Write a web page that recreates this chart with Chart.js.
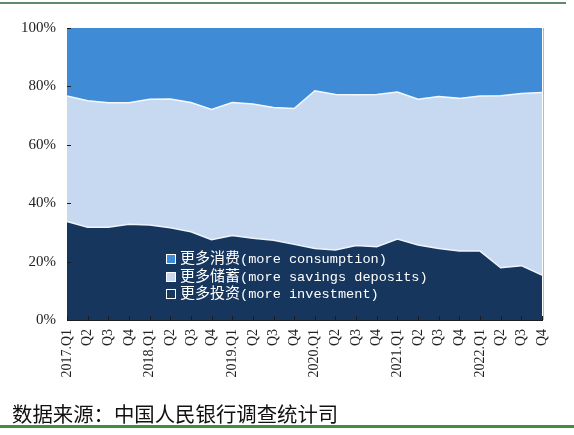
<!DOCTYPE html>
<html lang="zh">
<head>
    <meta charset="UTF-8">
    <title>居民储蓄、消费、投资意愿</title>
    <script src="https://cdn.jsdelivr.net/npm/chart.js"></script>
    <style>
        body { margin: 0; background: #fff; }
        .wrap { position: relative; width: 574px; height: 435px; overflow: hidden; }
        #chart { position: absolute; left: 0; top: 0; }
        .rule-top { position: absolute; left: 0; top: 2px; width: 566px; height: 2px; background: #62876a; }
        .rule-bottom { position: absolute; left: 0; top: 425px; width: 574px; height: 3px; background: #3f8f3f; }
        .source { position: absolute; left: 12px; top: 398px; font: 20.4px "Noto Sans CJK SC", sans-serif; color: #111; }
        .legend { position: absolute; left: 166px; top: 246px; color: #fff; }
        .legend div { height: 17.5px; line-height: 17.5px; white-space: nowrap; }
        .legend i { display: inline-block; width: 8px; height: 8px; border: 1.5px solid #fff; margin-right: 4px; vertical-align: -1px; }
        .legend .zh { font: 15px "Noto Sans CJK SC", sans-serif; }
        .legend .en { font: 13.6px "Liberation Mono", monospace; }
    </style>
</head>
<body>
    <div class="wrap">
        <div class="rule-top"></div>
        <canvas id="chart" width="574" height="435"></canvas>
        <div class="legend">
            <div><i style="background:#3f8bd6"></i><span class="zh">更多消费</span><span class="en">(more consumption)</span></div>
            <div><i style="background:#c6d9f1"></i><span class="zh">更多储蓄</span><span class="en">(more savings deposits)</span></div>
            <div><i style="background:#17365d"></i><span class="zh">更多投资</span><span class="en">(more investment)</span></div>
        </div>
        <div class="source">数据来源：中国人民银行调查统计司</div>
        <div class="rule-bottom"></div>
    </div>

    <script>
    // quarter labels
    const quarters = [
        '2017.Q1', 'Q2', 'Q3', 'Q4',
        '2018.Q1', 'Q2', 'Q3', 'Q4',
        '2019.Q1', 'Q2', 'Q3', 'Q4',
        '2020.Q1', 'Q2', 'Q3', 'Q4',
        '2021.Q1', 'Q2', 'Q3', 'Q4',
        '2022.Q1', 'Q2', 'Q3', 'Q4'
    ];

    // shares in %
    const moreInvestment = [33.7, 31.8, 31.8, 32.8, 32.5, 31.6, 30.2, 27.5, 28.9, 28.0, 27.3, 25.9,
                            24.5, 24.0, 25.5, 25.1, 27.7, 25.7, 24.5, 23.6, 23.6, 17.9, 18.6, 15.4];
    const moreSavings = [43.0, 43.3, 42.6, 41.6, 43.1, 44.1, 44.3, 44.6, 45.6, 46.0, 45.5, 46.5,
                         54.0, 53.2, 51.6, 52.1, 50.4, 49.9, 52.0, 52.3, 53.1, 58.9, 59.0, 62.5];
    const moreConsumption = [23.3, 24.9, 25.6, 25.6, 24.4, 24.3, 25.5, 27.9, 25.5, 26.0, 27.2, 27.6,
                             21.5, 22.8, 22.9, 22.8, 21.9, 24.4, 23.5, 24.1, 23.3, 23.2, 22.4, 22.1];

    const yTicks = [0, 20, 40, 60, 80, 100];

    // small tick marks pointing into the plot, plus the light right-hand frame
    const innerTicks = {
        id: 'innerTicks',
        afterDraw(chart) {
            const ctx = chart.ctx;
            const area = chart.chartArea;
            const x = chart.scales.x, y = chart.scales.y;
            ctx.save();
            ctx.strokeStyle = '#b4b8bf';
            ctx.lineWidth = 1;
            ctx.beginPath();
            ctx.moveTo(area.right + 1.5, area.top);
            ctx.lineTo(area.right + 1.5, area.bottom);
            ctx.stroke();

            ctx.strokeStyle = '#1c1c1c';
            ctx.beginPath();
            yTicks.forEach(v => {
                const py = Math.round(y.getPixelForValue(v)) + 0.5;
                ctx.moveTo(area.left, py);
                ctx.lineTo(area.left + 4, py);
            });
            quarters.forEach((q, i) => {
                const px = Math.round(x.getPixelForValue(i)) + 0.5;
                ctx.moveTo(px, area.bottom);
                ctx.lineTo(px, area.bottom - 4);
            });
            ctx.stroke();
            ctx.restore();
        }
    };

    new Chart(document.getElementById('chart'), {
        type: 'line',
        data: {
            labels: quarters,
            datasets: [
                {
                    label: '更多投资(more investment)',
                    data: moreInvestment,
                    backgroundColor: '#17365d',
                    borderColor: '#eef4fb',
                    borderWidth: 1.5,
                    fill: 'origin'
                },
                {
                    label: '更多储蓄(more savings deposits)',
                    data: moreSavings,
                    backgroundColor: '#c6d9f1',
                    borderColor: '#f4f8fd',
                    borderWidth: 1.5,
                    fill: '-1'
                },
                {
                    label: '更多消费(more consumption)',
                    data: moreConsumption,
                    backgroundColor: '#3f8bd6',
                    borderColor: '#3f8bd6',
                    borderWidth: 0,
                    fill: '-1'
                }
            ]
        },
        options: {
            responsive: false,
            animation: false,
            elements: { point: { radius: 0 }, line: { tension: 0 } },
            layout: { padding: { left: 0, right: 32, top: 28, bottom: 0 } },
            plugins: {
                legend: { display: false },
                tooltip: { enabled: false }
            },
            scales: {
                x: {
                    stacked: true,
                    offset: false,
                    grid: { display: false, drawTicks: false },
                    border: { display: true, color: '#1c1c1c', width: 1 },
                    ticks: {
                        autoSkip: false,
                        maxRotation: 90,
                        minRotation: 90,
                        padding: 9,
                        color: '#222',
                        font: { family: 'Liberation Serif', size: 14 }
                    },
                    afterFit(scale) { scale.height = 115; }
                },
                y: {
                    stacked: true,
                    min: 0,
                    max: 100,
                    grid: { display: false, drawTicks: false },
                    border: { display: true, color: '#1c1c1c', width: 1 },
                    ticks: {
                        stepSize: 20,
                        padding: 11,
                        color: '#222',
                        font: { family: 'Liberation Serif', size: 15 },
                        callback: v => v + '%'
                    },
                    afterFit(scale) { scale.width = 67; }
                }
            }
        },
        plugins: [innerTicks]
    });
    </script>
</body>
</html>
